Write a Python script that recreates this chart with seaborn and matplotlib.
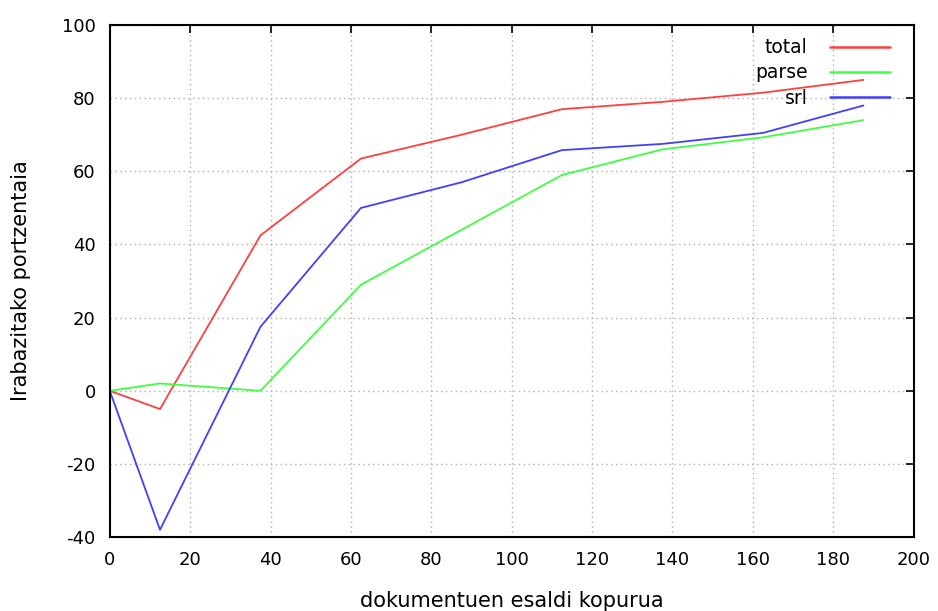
import numpy as np
import pandas as pd
import seaborn as sns
import matplotlib.pyplot as plt

# Datuak
esaldiak = [0, 12.5, 37.5, 62.5, 87.5, 112.5, 137.5, 162.5, 187.5]
total = [0, -5, 42.5, 63.5, 70, 77, 79, 81.5, 85]
parse = [0, 2, 0, 29, 44, 59, 66, 69.3, 74]
srl = [0, -38, 17.5, 50, 57, 65.8, 67.5, 70.5, 78]

df = pd.DataFrame({
    'x': esaldiak * 3,
    'y': total + parse + srl,
    'serie': ['total'] * len(esaldiak) + ['parse'] * len(esaldiak) + ['srl'] * len(esaldiak),
})

sns.set_style("white")
plt.rcParams['font.family'] = ['DejaVu Sans']
plt.rcParams['axes.unicode_minus'] = False
plt.rcParams['text.color'] = 'black'
plt.rcParams['xtick.color'] = 'black'
plt.rcParams['ytick.color'] = 'black'
plt.rcParams['axes.labelcolor'] = 'black'

fig, ax = plt.subplots(figsize=(9.38, 6.11), dpi=100)
fig.subplots_adjust(left=0.117, right=0.974, top=0.959, bottom=0.121)

sns.lineplot(data=df, x='x', y='y', hue='serie',
             palette={'total': '#ff4040', 'parse': '#40ff40', 'srl': '#4040ff'},
             linewidth=1.3, ax=ax)

ax.set_xlim(0, 200)
ax.set_ylim(-40, 100)
ax.set_xticks(np.arange(0, 201, 20))
ax.set_yticks(np.arange(-40, 101, 20))
ax.grid(True, linestyle=(0, (1, 2.5)), color='#b0b0b0', linewidth=1)
ax.tick_params(direction='in', top=True, right=True, length=6, width=1.2,
               labelsize=13, pad=10)
for s in ax.spines.values():
    s.set_linewidth(1.5)
    s.set_color('black')

ax.set_xlabel('dokumentuen esaldi kopurua', fontsize=15, labelpad=16)
ax.set_ylabel('Irabazitako portzentaia', fontsize=15, labelpad=22)

leg = ax.legend(loc='upper right', bbox_to_anchor=(0.987, 1.0), frameon=False,
                markerfirst=False, fontsize=13.5, handlelength=3.2, handletextpad=1.2,
                labelspacing=0.33, borderaxespad=0.3, title=None)
for ln in leg.get_lines():
    ln.set_linewidth(1.8)

plt.savefig('out.png', dpi=100)
